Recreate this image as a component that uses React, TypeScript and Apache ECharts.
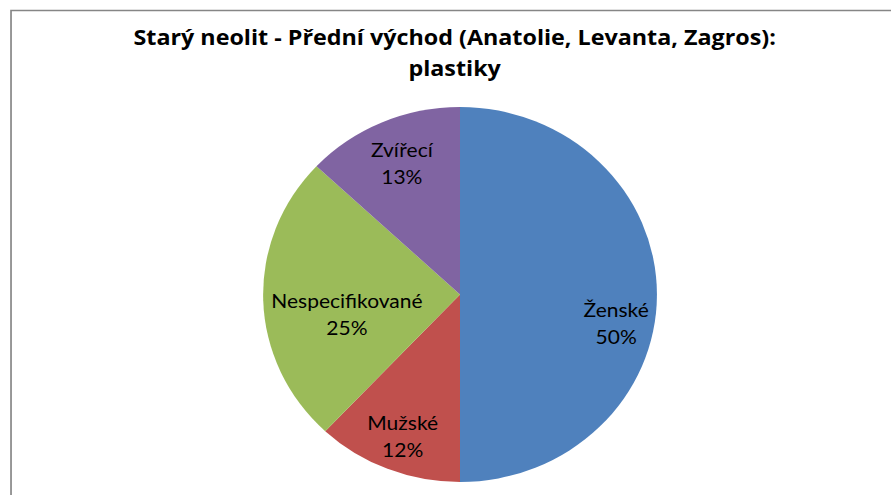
import React, { useEffect, useRef } from "react";
import * as echarts from "echarts";

const TITLE = "Starý neolit - Přední východ (Anatolie, Levanta, Zagros):\nplastiky";
const categories = ["Ženské", "Mužské", "Nespecifikované", "Zvířecí"];
const values = [50, 12, 25, 13];
const colors = ["#4F81BD", "#C0504D", "#9BBB59", "#8064A2"];

// label nudges (style only) relative to ECharts' "inside" position
const LABEL_NUDGE: [number, number][] = [
  [52, 28],
  [-19, 51],
  [-11, 16],
  [-17, -43],
];

const SX = 1.05; // horizontal stretch of the reference
const W = 891;
const H = 495;

export default function App() {
  const ref = useRef<HTMLDivElement>(null);
  useEffect(() => {
    if (!ref.current) return;
    const chart = echarts.init(ref.current, undefined, { renderer: "svg" });
    const cw = W / SX;
    chart.setOption({
      animation: false,
      backgroundColor: "#ffffff",
      title: {
        text: TITLE,
        left: 433,
        top: 21,
        padding: 0,
        textAlign: "center",
        textStyle: {
          fontFamily: "Open Sans",
          fontWeight: "bold",
          fontSize: 22.2,
          lineHeight: 31,
          color: "#000000",
        },
      },
      graphic: [
        {
          type: "rect",
          shape: { x: 10.5, y: 10.5, width: cw + 50, height: H + 50 },
          style: { fill: "none", stroke: "#868686", lineWidth: 1.6 },
          silent: true,
        },
      ],
      series: [
        {
          type: "pie",
          center: [460 / SX, 294.5],
          radius: 187.5,
          startAngle: 90,
          clockwise: true,
          percentPrecision: 0,
          silent: true,
          emphasis: { disabled: true },
          itemStyle: { borderWidth: 0 },
          label: {
            show: true,
            position: "inside",
            formatter: "{b}\n{d}%",
            fontFamily: "Lato",
            fontSize: 20,
            lineHeight: 27,
            color: "#000000",
            align: "center",
          },
          labelLine: { show: false },
          labelLayout: (params: any) => {
            const n = LABEL_NUDGE[params.dataIndex] || [0, 0];
            return { dx: n[0], dy: n[1] };
          },
          data: categories.map((name, i) => ({
            name,
            value: values[i],
            itemStyle: { color: colors[i] },
          })),
        },
      ],
    });
    return () => chart.dispose();
  }, []);

  return (
    <div
      style={{
        position: "fixed",
        left: 0,
        top: 0,
        width: W,
        height: H,
        overflow: "hidden",
        background: "#fff",
      }}
    >
      <div
        ref={ref}
        style={{
          width: W / SX,
          height: H,
          transform: `scaleX(${SX})`,
          transformOrigin: "0 0",
        }}
      />
    </div>
  );
}
